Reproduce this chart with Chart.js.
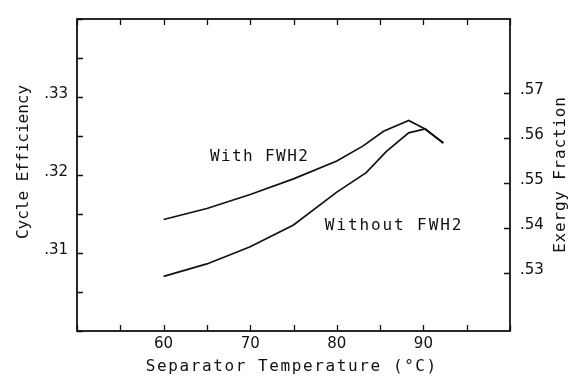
<!DOCTYPE html>
<html>
<head>
<meta charset="utf-8">
<script src="https://cdn.jsdelivr.net/npm/chart.js@4/dist/chart.umd.min.js"></script>
<style>
  html, body { margin: 0; padding: 0; background: #fff; }
  #wrap { width: 575px; height: 376px; position: relative; }
</style>
</head>
<body>
<div id="wrap"><canvas id="c"></canvas></div>
<script>
// Separator temperature (°C) and cycle efficiency for each configuration
const seriesNames = ['With FWH2', 'Without FWH2'];
const tempWith = [60, 65, 70, 75, 80, 83, 85.4, 88.3, 90.2, 92.3];
const effWith = [0.3143, 0.3157, 0.3175, 0.3195, 0.3218, 0.3237, 0.3256, 0.3270, 0.3259, 0.3241];
const tempWithout = [60, 65, 70, 75, 80, 83.4, 85.7, 88.3, 90.2, 92.3];
const effWithout = [0.3070, 0.3086, 0.3108, 0.3136, 0.3178, 0.3203, 0.3230, 0.3254, 0.3259, 0.3241];

// Axis tick labels
const xTickLabels = [60, 70, 80, 90];
const effTickLabels = [0.31, 0.32, 0.33];
const exergyTickLabels = [0.53, 0.54, 0.55, 0.56, 0.57];

const INK = '#111';
const pts = (xs, ys) => xs.map((x, i) => ({ x, y: ys[i] }));
const fmtFrac = v => '.' + String(Math.round(v * 100));
const near = (v, list) => list.some(t => Math.abs(t - v) < 1e-6);

// Frame, inward tick marks, axis titles and curve captions
const decorations = {
  id: 'decorations',
  afterDraw(chart, args, opts) {
    const { ctx, chartArea: a, scales } = chart;
    const tl = 6;
    ctx.save();
    ctx.strokeStyle = INK;
    ctx.lineWidth = 1.8;
    ctx.strokeRect(a.left, a.top, a.right - a.left, a.bottom - a.top);
    ctx.lineWidth = 1.3;
    ctx.beginPath();
    scales.x.ticks.forEach(t => {
      const px = Math.round(scales.x.getPixelForValue(t.value)) + 0.5;
      ctx.moveTo(px, a.bottom); ctx.lineTo(px, a.bottom - tl);
      ctx.moveTo(px, a.top); ctx.lineTo(px, a.top + tl);
    });
    scales.y.ticks.forEach(t => {
      const py = Math.round(scales.y.getPixelForValue(t.value)) + 0.5;
      ctx.moveTo(a.left, py); ctx.lineTo(a.left + tl, py);
    });
    scales.y2.ticks.forEach(t => {
      const py = Math.round(scales.y2.getPixelForValue(t.value)) + 0.5;
      ctx.moveTo(a.right, py); ctx.lineTo(a.right - tl, py);
    });
    ctx.stroke();

    ctx.fillStyle = INK;
    ctx.textAlign = 'center';
    ctx.textBaseline = 'middle';
    const text = (s, x, y, rot, font, spacing) => {
      ctx.save();
      ctx.font = font;
      ctx.letterSpacing = spacing + 'px';
      ctx.translate(x, y);
      if (rot) ctx.rotate(rot);
      ctx.fillText(s, spacing / 2, 0);
      ctx.restore();
    };
    const f = '16px "DejaVu Sans Mono"';
    text('Separator Temperature (\u00B0C)', 291, 367, 0, f, 1.6);
    text('Cycle Efficiency', 24, 162, -Math.PI / 2, f, 0);
    text('Exergy Fraction', 561, 175, -Math.PI / 2, f, 0.8);

    opts.captions.forEach(c => {
      const x = scales.x.getPixelForValue(c.at[0]);
      const y = scales.y.getPixelForValue(c.at[1]);
      text(c.text, x, y, 0, f, c.spacing);
    });
    ctx.restore();
  }
};

const fixSize = (w, h) => scale => {
  if (w != null) scale.width = w;
  if (h != null) scale.height = h;
};

new Chart(document.getElementById('c'), {
  type: 'line',
  data: {
    datasets: [
      { label: seriesNames[0], data: pts(tempWith, effWith) },
      { label: seriesNames[1], data: pts(tempWithout, effWithout) }
    ]
  },
  options: {
    responsive: true,
    maintainAspectRatio: false,
    animation: false,
    parsing: false,
    layout: { padding: { top: 11, left: 0, right: 0, bottom: 0 } },
    elements: {
      line: { borderColor: INK, borderWidth: 1.7, tension: 0, fill: false },
      point: { radius: 0, hoverRadius: 0 }
    },
    plugins: {
      legend: { display: false },
      tooltip: { enabled: false },
      decorations: {
        captions: [
          { text: seriesNames[0], at: [71.0, 0.3223], spacing: 1.4 },
          { text: seriesNames[1], at: [86.5, 0.3135], spacing: 1.9 }
        ]
      }
    },
    scales: {
      x: {
        type: 'linear',
        position: 'bottom',
        min: 50, max: 100,
        afterFit: fixSize(null, 45),
        grid: { display: false, drawTicks: false },
        border: { display: false },
        ticks: {
          stepSize: 5,
          padding: 4,
          color: INK,
          font: { family: 'DejaVu Sans', size: 15 },
          callback: v => near(v, xTickLabels) ? String(v) : ''
        }
      },
      y: {
        type: 'linear',
        position: 'left',
        min: 0.30, max: 0.34,
        afterFit: fixSize(77, null),
        grid: { display: false, drawTicks: false },
        border: { display: false },
        ticks: {
          stepSize: 0.005,
          padding: 9,
          labelOffset: -3,
          color: INK,
          font: { family: 'DejaVu Sans', size: 15 },
          callback: v => near(v, effTickLabels) ? fmtFrac(v) : ''
        }
      },
      y2: {
        type: 'linear',
        position: 'right',
        min: 0.5172, max: 0.5864,
        afterFit: fixSize(65, null),
        afterBuildTicks: scale => { scale.ticks = exergyTickLabels.map(v => ({ value: v })); },
        grid: { display: false, drawTicks: false },
        border: { display: false },
        ticks: {
          padding: 10,
          labelOffset: -3,
          color: INK,
          font: { family: 'DejaVu Sans', size: 15 },
          callback: v => fmtFrac(v)
        }
      }
    }
  },
  plugins: [decorations]
});
</script>
</body>
</html>
